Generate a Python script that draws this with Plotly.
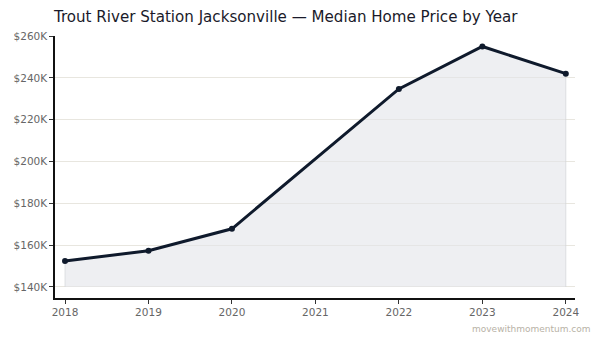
import plotly.graph_objects as go

years = [2018, 2019, 2020, 2021, 2022, 2023, 2024]
prices = [152400, 157300, 167800, None, 234700, 255000, 242000]
y_ticks = [140000, 160000, 180000, 200000, 220000, 240000, 260000]
y_tick_labels = ["$140K", "$160K", "$180K", "$200K", "$220K", "$240K", "$260K"]
base = 140000

fx = [y for y, p in zip(years, prices) if p is not None]
fy = [p for p in prices if p is not None]

fig = go.Figure()
fig.add_trace(go.Scatter(
    x=[fx[0]] + fx + [fx[-1]], y=[base] + fy + [base],
    mode="lines", fill="toself", fillcolor="rgba(226,229,233,0.6)",
    line=dict(color="rgba(210,212,216,0.7)", width=1), hoverinfo="skip", showlegend=False))
fig.add_trace(go.Scatter(
    x=years, y=prices, mode="lines+markers", connectgaps=True,
    line=dict(color="#0f1a2c", width=3), marker=dict(size=6, color="#0f1a2c"),
    showlegend=False))

fig.update_layout(
    width=599, height=343, margin=dict(l=55, r=24, t=36, b=45),
    paper_bgcolor="white", plot_bgcolor="white",
    font=dict(family="DejaVu Sans", color="#555"),
    title=dict(text="Trout River Station Jacksonville — Median Home Price by Year",
               x=0.09, xanchor="left", y=0.95, yanchor="middle",
               font=dict(size=15.1, color="#1a1a2a")),
    xaxis=dict(range=[2017.88, 2024.11], tickvals=years, ticktext=[str(y) for y in years],
               showgrid=False, showline=True, linecolor="#111", linewidth=1.5,
               ticks="outside", ticklen=4, tickcolor="#333", tickfont=dict(size=10.5, color="#666"),
               zeroline=False),
    yaxis=dict(range=[134700, 260000], tickvals=y_ticks, ticktext=y_tick_labels,
               showgrid=True, gridcolor="#e8e6df", gridwidth=1,
               showline=True, linecolor="#111", linewidth=1.5,
               ticks="outside", ticklen=4, tickcolor="#333", tickfont=dict(size=10.5, color="#666"),
               zeroline=False),
    annotations=[dict(text="movewithmomentum.com", xref="paper", yref="paper",
                      x=1.035, y=-0.09, xanchor="right", yanchor="top", showarrow=False,
                      font=dict(size=9, color="#b8b2a6"))],
)
fig.write_html("out.html")
